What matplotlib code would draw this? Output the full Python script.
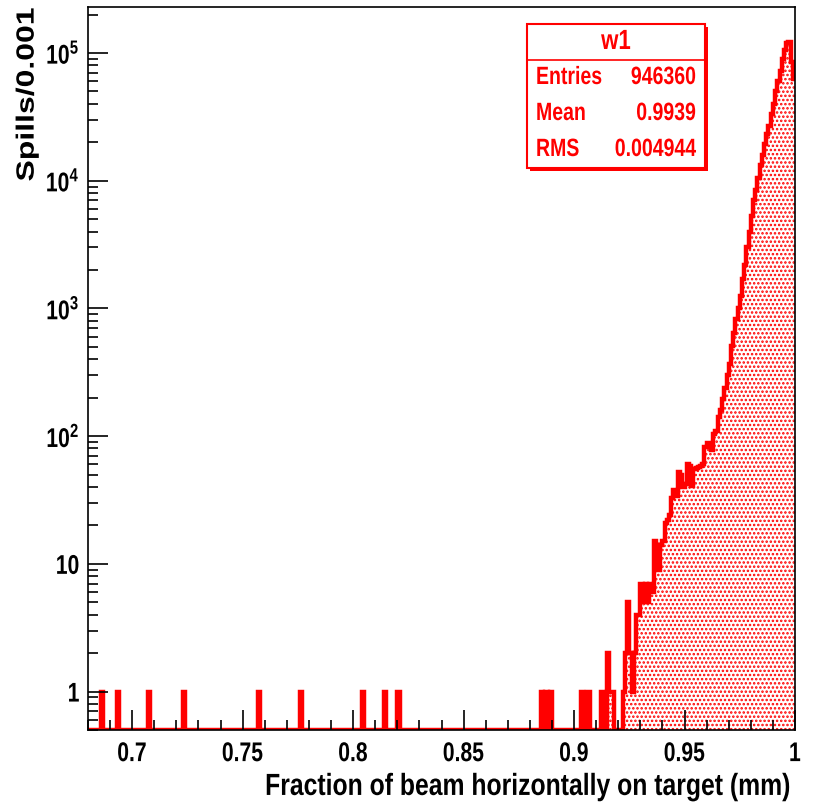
import numpy as np
import matplotlib
matplotlib.use("Agg")
import matplotlib.pyplot as plt
from matplotlib.patches import Rectangle
from matplotlib.patheffects import AbstractPathEffect
from matplotlib.transforms import Affine2D
from matplotlib.ticker import MultipleLocator, LogLocator, FuncFormatter, NullFormatter

# histogram "w1": bins of 0.001 from 0.68 to 1.0
bin_width = 0.001
x_lo, x_hi = 0.68, 1.0
y_lo, y_hi = 0.5, 2.29e5

# lower edges of lone single-entry bins
single_bins = [0.686, 0.693, 0.707, 0.723, 0.757, 0.776, 0.804, 0.814, 0.820,
               0.885, 0.887, 0.889]

# counts of the bins 0.903 ... 0.999
tail_start = 0.903
tail_counts = [
    1, 0, 0, 1, 0, 0, 0, 0, 0, 1,          # 0.903 - 0.912
    0, 0, 2, 1, 1, 0, 0, 0, 0, 1,          # 0.913 - 0.922
    2, 5, 2, 1, 2, 4, 4, 7, 5, 7,          # 0.923 - 0.932
    5, 7, 6, 15, 14, 9, 14, 15, 21, 22,    # 0.933 - 0.942
    24, 33, 38, 34, 52, 50, 40, 42, 61, 58,  # 0.943 - 0.952
    41, 55, 56, 57, 58, 60, 82, 88, 86, 78,  # 0.953 - 0.962
    104, 110, 140, 160, 195, 240, 300, 370, 510, 640,  # 0.963 - 0.972
    820, 1000, 1250, 1700, 2200, 3000, 4000, 5300, 7000, 8400,  # 0.973 - 0.982
    10500, 13200, 16000, 19500, 23000, 27000, 33000, 40000, 50000, 60000,  # 0.983 - 0.992
    72000, 90000, 105000, 120000, 122000, 85000, 62000,  # 0.993 - 0.999
]

stats_title = "w1"
stats_names = ["Entries", "Mean", "RMS"]
stats_values = ["946360", "0.9939", "0.004944"]

x_title = "Fraction of beam horizontally on target (mm)"
y_title = "Spills/0.001"

plt.rcParams["font.family"] = ["Liberation Sans", "DejaVu Sans"]
plt.rcParams["font.weight"] = "bold"
plt.rcParams["mathtext.fontset"] = "custom"
plt.rcParams["mathtext.bf"] = "Liberation Sans:bold"
plt.rcParams["mathtext.rm"] = "Liberation Sans:bold"
plt.rcParams["hatch.linewidth"] = 1.2


class Squeeze(AbstractPathEffect):
    """draw text narrower (ROOT's condensed helvetica look)"""
    def __init__(self, sx=0.78, sy=1.0, anchor="center"):
        super().__init__()
        self.sx, self.sy, self.anchor = sx, sy, anchor

    def draw_path(self, renderer, gc, tpath, affine, rgbFace=None):
        xs = tpath.vertices[:, 0] if len(tpath.vertices) else np.zeros(1)
        if self.anchor == "left":
            cx = xs.min()
        elif self.anchor == "right":
            cx = xs.max()
        else:
            cx = 0.5 * (xs.min() + xs.max())
        t = Affine2D().translate(-cx, 0).scale(self.sx, self.sy).translate(cx, 0) + affine
        renderer.draw_path(gc, tpath, t, rgbFace)


n_bins = int(round((x_hi - x_lo) / bin_width))
counts = np.zeros(n_bins)
for b in single_bins:
    counts[int(round((b - x_lo) / bin_width))] = 1
i0 = int(round((tail_start - x_lo) / bin_width))
counts[i0:i0 + len(tail_counts)] = tail_counts
edges = x_lo + bin_width * np.arange(n_bins + 1)
shown = np.maximum(counts, y_lo)

red = "#ff0000"
W, H = 813, 810
fig = plt.figure(figsize=(W / 100, H / 100), dpi=100)
ax = fig.add_axes([88 / W, 80 / H, 707 / W, 723 / H])

ax.stairs(shown, edges, baseline=y_lo, fill=True, facecolor="white",
          edgecolor=red, hatch="....", linewidth=0)
ax.stairs(shown, edges, baseline=None, color=red, linewidth=3.2)

ax.set_yscale("log")
ax.set_xlim(x_lo, x_hi)
ax.set_ylim(y_lo, y_hi)

ax.xaxis.set_major_locator(MultipleLocator(0.05))
ax.xaxis.set_minor_locator(MultipleLocator(0.01))
ax.xaxis.set_major_formatter(FuncFormatter(lambda v, p: f"{v:.2f}".rstrip("0").rstrip(".")))


def ylab(v, p):
    e = int(round(np.log10(v)))
    if e == 0:
        return "1"
    if e == 1:
        return "10"
    return r"$\mathbf{10^{%d}}$" % e


ax.yaxis.set_major_locator(LogLocator(base=10, numticks=12))
ax.yaxis.set_minor_locator(LogLocator(base=10, subs=np.arange(2, 10), numticks=12))
ax.yaxis.set_major_formatter(FuncFormatter(ylab))
ax.yaxis.set_minor_formatter(NullFormatter())

ax.tick_params(which="both", direction="in", top=False, right=False, width=1.2)
ax.tick_params(which="major", length=14.5, labelsize=19.5)
ax.tick_params(axis="x", which="major", pad=8)
ax.tick_params(axis="y", which="major", pad=6)
ax.tick_params(which="minor", length=7.3)
for s in ax.spines.values():
    s.set_linewidth(1.2)

ax.set_xlabel(x_title, fontsize=22, fontweight="bold", loc="right",
              path_effects=[Squeeze(0.81, anchor="right")])
ax.xaxis.set_label_coords(0.993, -0.058)
ax.xaxis.label.set_va("top")
ax.set_ylabel(y_title, fontsize=23, fontweight="bold", loc="top",
              path_effects=[Squeeze(1.0, 0.78)])
ax.yaxis.set_label_coords(-0.067, 1.0)

# statistics box
def fx(px):
    return px / W


def fy(py):
    return 1 - py / H


bx0, bx1, by0, by1 = 527, 705, 24, 168
fig.patches.append(Rectangle((fx(bx0 + 3), fy(by1 + 3)), fx(bx1 - bx0), (by1 - by0) / H,
                             transform=fig.transFigure, facecolor=red, edgecolor=red, lw=0))
fig.patches.append(Rectangle((fx(bx0), fy(by1)), fx(bx1 - bx0), (by1 - by0) / H,
                             transform=fig.transFigure, facecolor="white", edgecolor=red, lw=1.5))
fig.lines.append(plt.Line2D([fx(bx0), fx(bx1)], [fy(60), fy(60)], transform=fig.transFigure,
                            color=red, lw=1.2))
fig.text(fx((bx0 + bx1) / 2), fy(42), stats_title, color=red, fontsize=20,
         ha="center", va="center", fontweight="bold", path_effects=[Squeeze(0.8)])
for k, (nm, val) in enumerate(zip(stats_names, stats_values)):
    yy = fy(77 + 36 * k)
    fig.text(fx(536), yy, nm, color=red, fontsize=18, ha="left", va="center",
             fontweight="bold", path_effects=[Squeeze(0.78, anchor="left")])
    fig.text(fx(696), yy, val, color=red, fontsize=18, ha="right", va="center",
             fontweight="bold", path_effects=[Squeeze(0.78, anchor="right")])

# condensed tick labels
fig.canvas.draw()
for t in ax.xaxis.get_major_ticks():
    t.label1.set_path_effects([Squeeze(0.78)])
for t in ax.yaxis.get_major_ticks():
    t.label1.set_path_effects([Squeeze(0.78, anchor="right")])

fig.savefig("out.png", dpi=100)
